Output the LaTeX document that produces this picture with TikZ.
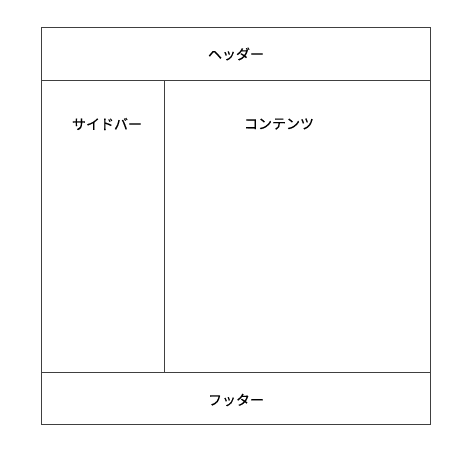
\documentclass[tikz,border=0pt]{standalone}
\usepackage{fontspec}
\newfontfamily\cjk[FakeBold=0.3]{Noto Sans CJK JP}
\begin{document}
\begin{tikzpicture}[x=1pt,y=-1pt,
  frame/.style={draw=black!75, line width=0.9pt},
  lbl/.style={font=\cjk\fontsize{14}{16}\selectfont, inner sep=0pt}]
\useasboundingbox (0,0) rectangle (470,454);
\coordinate (tl) at (41,27.5);
\coordinate (br) at (430.5,424.5);
\coordinate (hl) at (41,80.5);
\coordinate (hr) at (430.5,80.5);
\coordinate (fl) at (41,372.5);
\coordinate (fr) at (430.5,372.5);
\coordinate (st) at (164.5,80.5);
\coordinate (sb) at (164.5,372.5);
\draw[frame] (tl) rectangle (br);
\draw[frame] (hl) -- (hr);
\draw[frame] (fl) -- (fr);
\draw[frame] (st) -- (sb);
\node[lbl] (header) at (236,54) {ヘッダー};
\node[lbl] (sidebar) at (107,124) {サイドバー};
\node[lbl] (content) at (279,124) {コンテンツ};
\node[lbl] (footer) at (236,400) {フッター};
\end{tikzpicture}
\end{document}
